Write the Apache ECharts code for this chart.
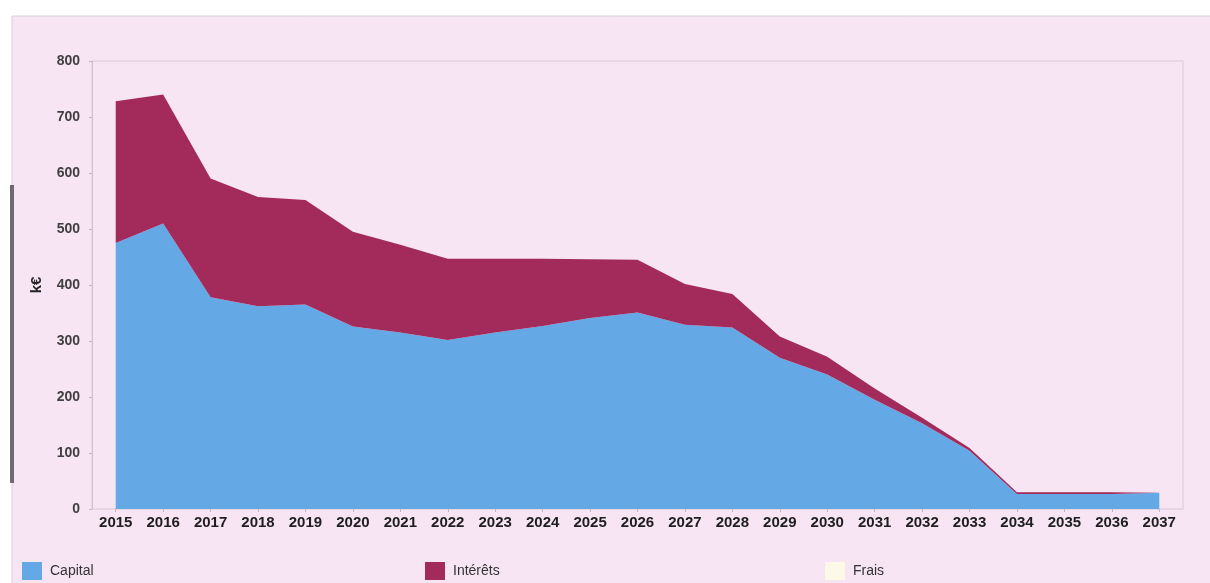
<!DOCTYPE html>
<html>
<head>
<meta charset="utf-8">
<style>
  html, body { margin: 0; padding: 0; background: #ffffff; }
  #chart { width: 1210px; height: 583px; }
</style>
<script src="https://cdn.jsdelivr.net/npm/echarts@6/dist/echarts.min.js"></script>
</head>
<body>
<div id="chart"></div>
<script>
// Years of the repayment schedule
const years = ['2015','2016','2017','2018','2019','2020','2021','2022','2023','2024','2025','2026',
               '2027','2028','2029','2030','2031','2032','2033','2034','2035','2036','2037'];
// Annual amounts in k€
const capital  = [475, 510, 378, 362, 365, 326, 315, 302, 315, 327, 341, 351,
                  329, 324, 270, 240, 195, 153, 104, 27, 27, 27, 29];
const interets = [253, 230, 212, 195, 187, 169, 157, 145, 132, 120, 105, 94,
                  73, 60, 38, 32, 20, 10, 5, 3, 3, 3, 0];
const frais    = [0, 0, 0, 0, 0, 0, 0, 0, 0, 0, 0, 0,
                  0, 0, 0, 0, 0, 0, 0, 0, 0, 0, 0];
const yTicks = { min: 0, max: 800, step: 100 };

const COLORS = { capital: '#64a8e6', interets: '#a32b5c', frais: '#fdf8e8' };

const chart = echarts.init(document.getElementById('chart'));

function areaSeries(name, data, color) {
  return {
    name: name,
    type: 'line',
    stack: 'total',
    data: data,
    symbol: 'none',
    smooth: false,
    lineStyle: { width: 0 },
    itemStyle: { color: color },
    areaStyle: { color: color, opacity: 1 }
  };
}

function legendAt(left, name) {
  return {
    data: [name],
    left: left,
    top: 557,
    icon: 'rect',
    itemWidth: 20,
    itemHeight: 18,
    itemGap: 10,
    textStyle: { fontFamily: 'Liberation Sans, Arial', fontSize: 14, color: '#333', padding: [0, 0, 0, 3] },
    selectedMode: false
  };
}

chart.setOption({
  backgroundColor: 'transparent',
  animation: false,
  graphic: [
    {
      type: 'rect',
      z: -10,
      shape: { x: 12, y: 16, width: 1200, height: 580 },
      style: { fill: '#f7e5f3', stroke: '#d8d2d6', lineWidth: 1 }
    },
    {
      type: 'rect',
      z: -9,
      shape: { x: 10, y: 185, width: 4, height: 298 },
      style: { fill: '#6c6c6c' }
    }
  ],
  grid: {
    left: 92,
    right: 27,
    top: 61,
    bottom: 74,
    show: true,
    backgroundColor: 'transparent',
    borderColor: '#d9c9d5',
    borderWidth: 1
  },
  legend: [
    legendAt(17, 'Capital'),
    legendAt(420, 'Intérêts'),
    legendAt(820, 'Frais')
  ],
  xAxis: {
    type: 'category',
    data: years,
    boundaryGap: true,
    axisLine: { show: true, lineStyle: { color: '#e6d6e2' } },
    axisTick: { show: true, alignWithLabel: true, length: 3, lineStyle: { color: '#bbb' } },
    axisLabel: {
      fontFamily: 'Liberation Sans, Arial',
      fontSize: 15,
      fontWeight: 'bold',
      color: '#1e1e1e',
      margin: 6,
      interval: 0
    },
    splitLine: { show: false }
  },
  yAxis: {
    type: 'value',
    min: yTicks.min,
    max: yTicks.max,
    interval: yTicks.step,
    name: 'k€',
    nameLocation: 'middle',
    nameRotate: 90,
    nameGap: 48,
    nameTextStyle: { fontFamily: 'Liberation Sans, Arial', fontSize: 15, fontWeight: 'bold', color: '#222' },
    axisLine: { show: true, lineStyle: { color: '#cfc4cc' } },
    axisTick: { show: true, length: 3, lineStyle: { color: '#bbb' } },
    axisLabel: {
      fontFamily: 'Liberation Sans, Arial',
      fontSize: 14,
      fontWeight: 'bold',
      color: '#404040',
      margin: 12
    },
    splitLine: { show: false }
  },
  series: [
    areaSeries('Capital', capital, COLORS.capital),
    areaSeries('Intérêts', interets, COLORS.interets),
    areaSeries('Frais', frais, COLORS.frais)
  ]
});
</script>
</body>
</html>
